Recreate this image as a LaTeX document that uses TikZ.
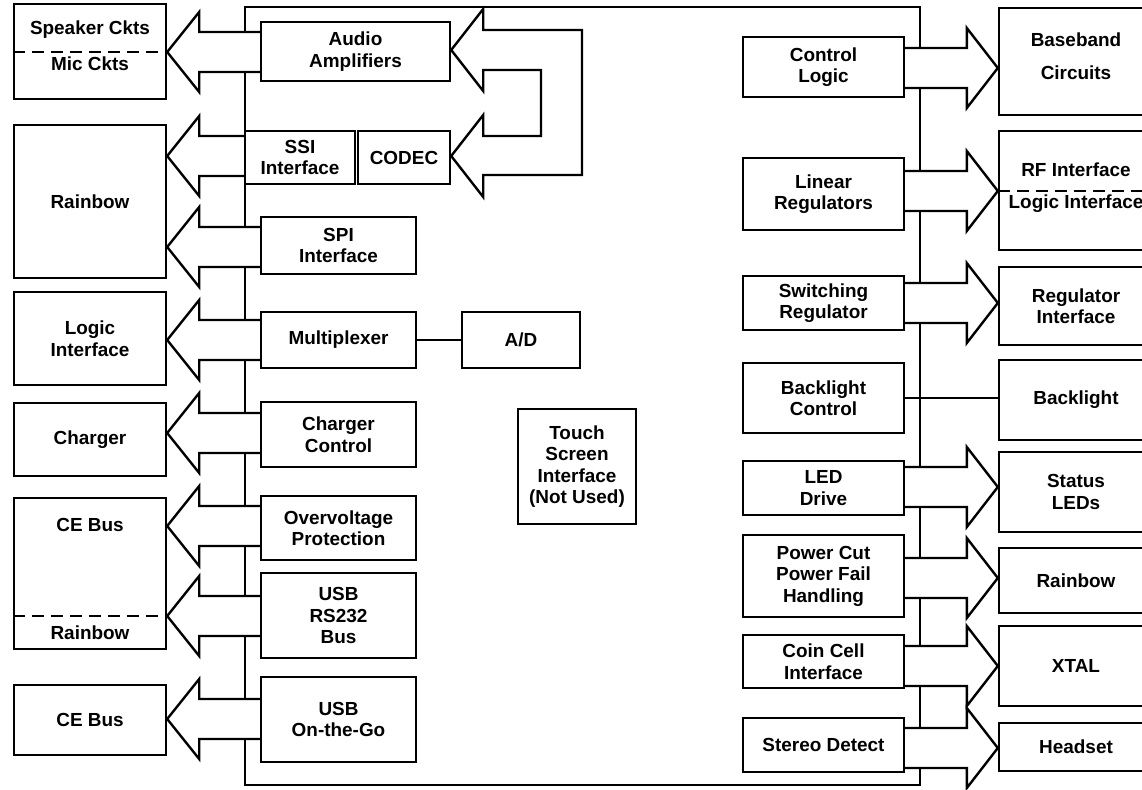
\documentclass[tikz,border=0pt]{standalone}
\usepackage{fontspec}
\setmainfont{Liberation Sans}
\usetikzlibrary{calc, backgrounds}
\tikzset{blk/.style={draw=black, line width=1.8pt, inner sep=0pt, align=center, font=\bfseries\fontsize{14.2}{16.1}\selectfont},lbl/.style={inner sep=0pt, font=\bfseries\fontsize{14.2}{16.1}\selectfont}}
\tikzset{bus/.style={draw=black, fill=white, line width=1.8pt},wire/.style={draw=black, line width=1.8pt}}

\begin{document}
\begin{tikzpicture}[
        x=0.75pt, y=-0.75pt,
        line join=miter,
        divider/.style={draw=black, line width=1.8pt, dash pattern=on 9pt off 5.25pt},
    ]
        \useasboundingbox (0,0) rectangle (1142,789);
        % Blocks
        \foreach \name/\xa/\ya/\xb/\yb/\txt in {
            spk/14/4/166/99/{},
            rainbowA/14/125/166/278/Rainbow,
            logicif/14/292/166/385/Logic\\Interface,
            charger/14/403/166/476/Charger,
            cebusA/14/498/166/649/{},
            cebusB/14/685/166/755/CE Bus,
            audio/261/22/450/81/Audio\\Amplifiers,
            ssi/245/131/355/184/SSI\\Interface,
            codec/358/131/450/184/CODEC,
            spi/261/217/416/274/SPI\\Interface,
            mux/261/312/416/368/Multiplexer,
            ad/462/312/580/368/{A/D},
            chgctl/261/402/416/467/Charger\\Control,
            ovp/261/496/416/560/Overvoltage\\Protection,
            usbrs/261/573/416/658/USB\\RS232\\Bus,
            usbotg/261/677/416/762/USB\\On-the-Go,
            touch/518/409/636/524/Touch\\Screen\\Interface\\(Not Used),
            ctrl/743/37/904/97/Control\\Logic,
            linreg/743/158/904/230/Linear\\Regulators,
            swreg/743/276/904/330/Switching\\Regulator,
            blctl/743/363/904/433/Backlight\\Control,
            led/743/461/904/515/LED\\Drive,
            pwrcut/743/535/904/617/Power Cut\\Power Fail\\Handling,
            coin/743/635/904/688/Coin Cell\\Interface,
            stereo/743/718/904/772/Stereo Detect,
            baseband/999/8/1153/115/{},
            rflogic/999/131/1153/250/{},
            regif/999/267/1153/345/Regulator\\Interface,
            backlight/999/360/1153/440/Backlight,
            statusled/999/452/1153/532/Status\\LEDs,
            rainbowB/999/548/1153/613/Rainbow,
            xtal/999/626/1153/706/XTAL,
            headset/999/723/1153/771/Headset} {
            \node[blk, minimum width={(\xb-\xa)*0.75pt}, minimum height={(\yb-\ya)*0.75pt}]
                (\name) at ({(\xa+\xb)/2}, {(\ya+\yb)/2}) {\txt};
        }
        % Split blocks
        \node[lbl] (spk-t) at (90,30) {Speaker Ckts};
        \node[lbl] (mic-t) at (90,64) {Mic Ckts};
        \node[lbl] (cebus-t) at (90,525) {CE Bus};
        \node[lbl] (rainbow-t) at (90,633) {Rainbow};
        \node[lbl] (bb-t) at (1076,40) {Baseband};
        \node[lbl] (circ-t) at (1076,73) {Circuits};
        \node[lbl] (rf-t) at (1076,170) {RF Interface};
        \node[lbl] (li-t) at (1076,204) {Logic Interface};
        \draw[divider] (spk.west |- 0,52) -- (spk.east |- 0,52);
        \draw[divider] (cebusA.west |- 0,616) -- (cebusA.east |- 0,616);
        \draw[divider] (rflogic.west |- 0,191) -- (rflogic.east |- 0,191);
        % Wires
        \draw[wire] (mux) -- (ad);
        \draw[wire] (blctl.east) -- (blctl.east -| backlight.west);
        \begin{scope}[on background layer]
            % Chip outline
            \draw[wire] (245,7) rectangle (920,785);
            % Buses to the left
            \foreach \src/\dst/\yc in {
                audio/spk/52,
                ssi/rainbowA/156,
                spi/rainbowA/247,
                mux/logicif/340,
                chgctl/charger/433,
                ovp/cebusA/526,
                usbrs/cebusA/616,
                usbotg/cebusB/719} {
                \coordinate (tip) at (\dst.east |- 0,\yc);
                \coordinate (base) at (\src.west |- 0,\yc);
                \filldraw[bus] ($(base)+(0,-20)$) -- ($(tip)+(32,-20)$) -- ($(tip)+(32,-40)$) -- (tip)
                    -- ($(tip)+(32,40)$) -- ($(tip)+(32,20)$) -- ($(base)+(0,20)$);
            }
            % Buses to the right
            \foreach \src/\dst/\yc in {
                ctrl/baseband/68,
                linreg/rflogic/191,
                swreg/regif/303,
                led/statusled/487,
                pwrcut/rainbowB/578,
                coin/xtal/666,
                stereo/headset/748} {
                \coordinate (tip) at (\dst.west |- 0,\yc);
                \coordinate (base) at (\src.east |- 0,\yc);
                \filldraw[bus] ($(base)+(0,-20)$) -- ($(tip)+(-31,-20)$) -- ($(tip)+(-31,-40)$) -- (tip)
                    -- ($(tip)+(-31,40)$) -- ($(tip)+(-31,20)$) -- ($(base)+(0,20)$);
            }
            % Audio loop
            \coordinate (t1) at (audio.east |- 0,50);
            \coordinate (t2) at (codec.east |- 0,156);
            \draw[bus] (t1) -- ++(32,-41) -- ++(0,21) -- (582,30) -- (582,175) -- ($(t2)+(32,19)$) -- ++(0,22)
                -- (t2) -- ++(32,-41) -- ++(0,21) -- (541,136) -- (541,70) -- ($(t1)+(32,20)$) -- ++(0,21) -- cycle;
        \end{scope}
    \end{tikzpicture}
\end{document}
